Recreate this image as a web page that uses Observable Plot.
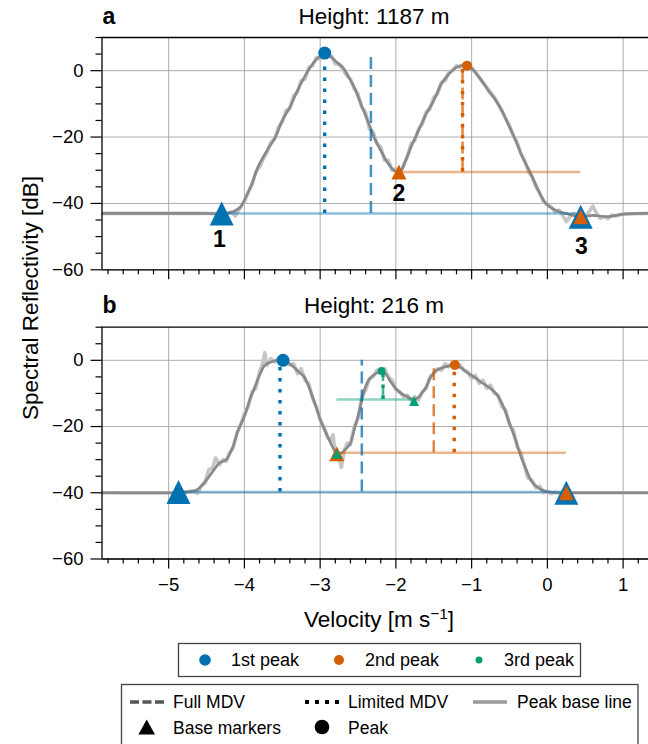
<!DOCTYPE html>
<html>
<head>
<meta charset="utf-8">
<script src="https://cdn.jsdelivr.net/npm/d3@7"></script>
<script src="https://cdn.jsdelivr.net/npm/@observablehq/plot@0.6"></script>
<style>
body { margin: 0; background: #fff; }
#fig { position: relative; width: 648px; height: 744px; overflow: hidden; background: #fff; }
#fig > div { position: absolute; left: 0; }
</style>
</head>
<body>
<div id="fig"><div id="pa" style="top:0px"></div><div id="pb" style="top:290px"></div></div>
<script>
const FONT = "'Liberation Sans', Arial, Helvetica, sans-serif";

// ---------- scales / ticks ----------
const xDomain = [-5.88, 1.335];
const yDomain = [-60, 10];
const xMajor = [-5, -4, -3, -2, -1, 0, 1];
const xMinor = [-5.8, -5.6, -5.4, -5.2, -4.8, -4.6, -4.4, -4.2, -3.8, -3.6, -3.4, -3.2,
  -2.8, -2.6, -2.4, -2.2, -1.8, -1.6, -1.4, -1.2, -0.8, -0.6, -0.4, -0.2, 0.2, 0.4, 0.6, 0.8, 1.2];
const yMajor = [-60, -40, -20, 0];
const yMinor = [-55, -50, -45, -35, -30, -25, -15, -10, -5, 5, 10];

const peakNames = ["1st peak", "2nd peak", "3rd peak"];
const peakColors = ["#0072B2", "#D55E00", "#009E73"];

// ---------- panel a (Height 1187 m) ----------
const smoothA = [[-5.88,-43],[-4.6,-43],[-4.3,-43],[-4.15,-42.5],[-4.05,-41],[-4.0,-39],[-3.9,-34],[-3.82,-29],
  [-3.7,-24],[-3.59,-20],[-3.5,-15],[-3.4,-11],[-3.3,-6],[-3.21,-2],[-3.1,2],[-3.02,4],[-2.93,5],[-2.85,4],
  [-2.78,2.5],[-2.7,1],[-2.62,-2],[-2.55,-5],[-2.48,-9],[-2.41,-13],[-2.34,-17],[-2.27,-21],[-2.2,-24],
  [-2.13,-27],[-2.05,-29.5],[-1.99,-30.5],[-1.93,-30],[-1.87,-27],[-1.8,-23],[-1.7,-18],[-1.6,-13],[-1.5,-9],
  [-1.4,-4],[-1.3,-1],[-1.2,1],[-1.1,1.7],[-1.05,1.5],[-0.97,0],[-0.87,-3],[-0.78,-6],[-0.68,-9],[-0.58,-13],
  [-0.5,-17],[-0.42,-21],[-0.33,-26],[-0.22,-31],[-0.12,-36],[-0.02,-40],[0.1,-42],[0.24,-43],[0.43,-44],
  [0.6,-43.6],[0.8,-44],[1.0,-43.2],[1.335,-43]];
const rawA = [[-5.88,-43],[-4.5,-43],[-4.25,-43.2],[-4.17,-42.6],[-4.12,-43.8],[-4.06,-41.5],[-4.0,-39.5],
  [-3.95,-36.5],[-3.9,-34.5],[-3.85,-30.5],[-3.8,-29],[-3.75,-26.5],[-3.7,-24.5],[-3.65,-21.5],[-3.6,-20.5],
  [-3.55,-17],[-3.5,-15.5],[-3.45,-12],[-3.4,-11.5],[-3.35,-7.5],[-3.3,-6.5],[-3.25,-3],[-3.2,-2.5],[-3.15,1],
  [-3.1,1.5],[-3.05,4],[-3.0,3.5],[-2.95,5.5],[-2.9,4.5],[-2.85,4.5],[-2.8,2],[-2.75,2],[-2.7,0.5],[-2.65,-1.5],
  [-2.6,-2.5],[-2.55,-5.5],[-2.5,-7],[-2.45,-11],[-2.4,-12.5],[-2.35,-17.5],[-2.3,-18.5],[-2.25,-22],[-2.2,-23],
  [-2.15,-27],[-2.1,-27],[-2.05,-30],[-2.0,-29.5],[-1.95,-31],[-1.9,-28.5],[-1.85,-26],[-1.8,-22],[-1.75,-21],
  [-1.7,-17.5],[-1.65,-16],[-1.6,-12.5],[-1.55,-11.5],[-1.5,-8],[-1.45,-7],[-1.4,-3.5],[-1.35,-3],[-1.3,-0.5],
  [-1.25,0],[-1.2,1.5],[-1.15,1],[-1.1,2],[-1.05,1.5],[-1.0,1],[-0.95,-0.5],[-0.9,-2],[-0.85,-3.5],[-0.8,-5],
  [-0.75,-6.5],[-0.7,-8],[-0.65,-10],[-0.6,-12],[-0.55,-14.5],[-0.5,-16.5],[-0.45,-19.5],[-0.4,-21.5],
  [-0.35,-25],[-0.3,-27],[-0.25,-30.5],[-0.2,-32],[-0.15,-35],[-0.1,-37],[-0.05,-39.5],[0.0,-40.5],[0.05,-41],
  [0.1,-42.5],[0.15,-42],[0.2,-43.5],[0.25,-45.5],[0.3,-44],[0.35,-43],[0.4,-44.5],[0.45,-43.5],[0.5,-44],
  [0.55,-42.5],[0.6,-40.8],[0.65,-43],[0.7,-44.5],[0.75,-44],[0.8,-44.6],[0.85,-43.5],[0.9,-43.8],[1.0,-43.2],[1.335,-43]];
const peakVelA = [-2.94, -1.06];
const peakDbA = [5.3, 1.5];
const fullMdvA = [-2.33, -1.12];
const limMdvA = [-2.94, -1.12];
const baseLVelA = [-4.3, -1.96];
const baseLDbA = [-43, -30.5];
const baseRVelA = [0.44, 0.44];
const baseRDbA = [-44, -44];
const baseLineDbA = [-43, -30.5];
const baseLabelsA = ["1", "2", "3"];
const labelVelA = [-4.33, -1.96, 0.45];
const labelDbA = [-50.8, -36.9, -52.9];

// ---------- panel b (Height 216 m) ----------
const smoothB = [[-5.88,-40],[-4.9,-40],[-4.75,-39.8],[-4.62,-39],[-4.55,-37.5],[-4.48,-35.5],[-4.4,-33],
  [-4.33,-31],[-4.24,-30],[-4.15,-26],[-4.08,-21],[-4.0,-17],[-3.93,-12],[-3.87,-8.5],[-3.8,-4.5],[-3.73,-1.5],
  [-3.65,-0.5],[-3.57,0],[-3.49,0],[-3.42,-0.8],[-3.35,-2],[-3.28,-3.5],[-3.21,-5],[-3.15,-8],[-3.1,-11],
  [-3.04,-15],[-2.98,-19],[-2.9,-23],[-2.84,-26],[-2.78,-28],[-2.72,-28],[-2.65,-26.5],[-2.6,-25],[-2.55,-21],
  [-2.5,-17],[-2.45,-12],[-2.41,-8.5],[-2.36,-6],[-2.3,-4.5],[-2.22,-3.5],[-2.17,-3.3],[-2.12,-4.5],[-2.07,-6.5],
  [-2.0,-8.5],[-1.93,-10],[-1.85,-11],[-1.78,-11.8],[-1.72,-11.5],[-1.66,-10],[-1.6,-8],[-1.55,-5.5],
  [-1.48,-3.3],[-1.4,-2.3],[-1.3,-1.7],[-1.22,-1.4],[-1.14,-2.3],[-1.06,-3.7],[-0.97,-5],[-0.87,-6.7],
  [-0.78,-8],[-0.68,-10],[-0.6,-13],[-0.5,-19],[-0.42,-24],[-0.35,-29],[-0.28,-33],[-0.21,-36.5],[-0.12,-38.5],
  [-0.03,-39.5],[0.1,-40],[0.25,-40],[1.335,-40]];
const rawB = [[-5.88,-40],[-4.9,-40],[-4.8,-39.8],[-4.7,-39.5],[-4.62,-40.2],[-4.57,-38],[-4.52,-37],
  [-4.47,-33],[-4.42,-32.5],[-4.38,-29.5],[-4.33,-31.5],[-4.28,-30],[-4.24,-30.5],[-4.2,-28],[-4.15,-26.5],
  [-4.1,-22],[-4.05,-19.5],[-4.0,-16],[-3.95,-14],[-3.9,-9.5],[-3.85,-8.5],[-3.8,-3.5],[-3.76,-1],[-3.73,2.3],
  [-3.7,-1.5],[-3.65,0.5],[-3.6,-0.5],[-3.55,0.5],[-3.5,-0.5],[-3.45,0],[-3.4,-1.5],[-3.35,-1],[-3.3,-4],
  [-3.25,-2.5],[-3.2,-6],[-3.15,-7],[-3.1,-11.5],[-3.05,-14],[-3.0,-18],[-2.95,-20],[-2.9,-23.5],[-2.86,-24],
  [-2.83,-22.5],[-2.8,-28],[-2.76,-29],[-2.72,-32.3],[-2.68,-27],[-2.64,-25],[-2.6,-25.5],[-2.55,-20],
  [-2.5,-17.5],[-2.45,-11],[-2.4,-9],[-2.35,-5.5],[-2.3,-5],[-2.25,-3],[-2.2,-3.5],[-2.15,-2.5],[-2.1,-5],
  [-2.05,-6],[-2.0,-9],[-1.95,-9.5],[-1.9,-11],[-1.85,-10.5],[-1.8,-12],[-1.75,-11],[-1.7,-12],[-1.65,-9.5],
  [-1.6,-8.5],[-1.55,-5],[-1.5,-4],[-1.45,-2.5],[-1.4,-3],[-1.35,-1],[-1.3,-2],[-1.25,-0.5],[-1.2,-1.5],
  [-1.15,-1.5],[-1.1,-3],[-1.05,-3.5],[-1.0,-5.5],[-0.95,-4.5],[-0.9,-7],[-0.85,-6],[-0.8,-8.5],[-0.75,-7.5],
  [-0.7,-10],[-0.65,-10.5],[-0.6,-14],[-0.55,-15],[-0.5,-19.5],[-0.45,-21],[-0.4,-26],[-0.35,-28],[-0.3,-32],
  [-0.26,-35.5],[-0.21,-36],[-0.15,-38.5],[-0.1,-38],[-0.05,-40],[0.0,-39.5],[0.05,-40.3],[0.1,-39.8],
  [0.2,-40.2],[0.3,-40],[1.335,-40]];
const peakVelB = [-3.49, -1.22, -2.19];
const peakDbB = [0, -1.4, -3.2];
const fullMdvB = [-2.45, -1.50, -2.17];
const limMdvB = [-3.53, -1.23, -2.17];
const baseLVelB = [-4.87, -2.78, -2.78];
const baseLDbB = [-39.8, -28.2, -28.2];
const baseRVelB = [0.25, 0.25, -1.76];
const baseRDbB = [-40, -40, -12.3];
const baseLineDbB = [-39.8, -27.9, -11.8];

// marker sizes per peak order
const triR = [12, 7.5, 5];
const dotR = [6.5, 5, 4];

const tri = {draw(ctx, size) { const r = Math.sqrt(size / Math.PI);
  ctx.moveTo(0, -r); ctx.lineTo(r, r); ctx.lineTo(-r, r); ctx.closePath(); }};
const fmt = d3.format("d");

function panel(p) {
  const X = d => d[0], Y = d => d[1];
  const marks = [
    Plot.gridX(xMajor, {stroke: "#999", strokeOpacity: 0.8, strokeWidth: 1}),
    Plot.gridY(yMajor, {stroke: "#999", strokeOpacity: 0.8, strokeWidth: 1}),
    Plot.line(p.raw, {x: X, y: Y, stroke: "#c6c6c6", strokeWidth: 3.6, clip: true}),
    Plot.line(p.smooth, {x: X, y: Y, stroke: "#8a8a8a", strokeWidth: 2.7, curve: "catmull-rom", clip: true})
  ];
  const n = p.peakVel.length;
  for (let i = 0; i < n; i++) {
    const c = peakColors[i];
    marks.push(Plot.ruleY([i], {y: () => p.baseLineDb[i], x1: () => p.baseLVel[i], x2: () => p.baseRVel[i],
      stroke: c, strokeOpacity: 0.45, strokeWidth: 2.5}));
  }
  for (let i = 0; i < n; i++) {
    const c = peakColors[i];
    marks.push(Plot.ruleX([i], {x: () => p.fullMdv[i], y1: () => p.baseLineDb[i], y2: () => p.peakDb[i],
      stroke: c, strokeOpacity: 0.75, strokeWidth: 2.5, strokeDasharray: "12,6"}));
    marks.push(Plot.ruleX([i], {x: () => p.limMdv[i], y1: () => p.baseLineDb[i], y2: () => p.peakDb[i],
      stroke: c, strokeWidth: 3.4, strokeDasharray: "3.5,7.5"}));
  }
  for (let i = 0; i < n; i++) {
    const c = peakColors[i];
    marks.push(Plot.dot([i], {x: () => p.baseLVel[i], y: () => p.baseLDb[i], r: triR[i], symbol: tri, fill: c}));
    marks.push(Plot.dot([i], {x: () => p.baseRVel[i], y: () => p.baseRDb[i], r: triR[i], symbol: tri, fill: c}));
  }
  for (let i = 0; i < n; i++) {
    marks.push(Plot.dot([i], {x: () => p.peakVel[i], y: () => p.peakDb[i], r: dotR[i], fill: peakColors[i]}));
  }
  if (p.labels) {
    marks.push(Plot.text(d3.range(p.labels.length), {x: i => p.labelVel[i], y: i => p.labelDb[i],
      text: i => p.labels[i], fontSize: 23, fontWeight: "bold", fill: "#000"}));
  }
  marks.push(
    Plot.axisY(yMajor, {tickSize: 11, tickPadding: 7.5, tickFormat: fmt, fontSize: 18.5, label: null, strokeWidth: 1.2, stroke: "#000"}),
    Plot.axisY(yMinor, {tickSize: 6, tickFormat: () => "", label: null, strokeWidth: 1.2, stroke: "#000"}),
    Plot.axisX(xMajor, {tickSize: 10, tickPadding: 8.5, tickFormat: p.showX ? fmt : () => "", fontSize: 18.5, label: null, strokeWidth: 1.2, stroke: "#000"}),
    Plot.axisX(xMinor, {tickSize: 5, tickFormat: () => "", label: null, strokeWidth: 1.2, stroke: "#000"}),
    Plot.ruleY([yDomain[0], yDomain[1]], {stroke: "#000", strokeWidth: 1.3}),
    Plot.ruleX([xDomain[0]], {stroke: "#000", strokeWidth: 1.3})
  );
  return Plot.plot({
    width: 648, height: p.height, marginLeft: 101.5, marginRight: 0,
    marginTop: p.marginTop, marginBottom: p.marginBottom,
    x: {domain: xDomain}, y: {domain: yDomain},
    style: {fontFamily: FONT, fontSize: "18.5px", color: "#000", background: "transparent", overflow: "visible"},
    marks
  });
}

document.getElementById("pa").append(panel({
  smooth: smoothA, raw: rawA, peakVel: peakVelA, peakDb: peakDbA, fullMdv: fullMdvA, limMdv: limMdvA,
  baseLVel: baseLVelA, baseLDb: baseLDbA, baseRVel: baseRVelA, baseRDb: baseRDbA, baseLineDb: baseLineDbA,
  labels: baseLabelsA, labelVel: labelVelA, labelDb: labelDbA,
  height: 285, marginTop: 37, marginBottom: 15.7, showX: false
}));
document.getElementById("pb").append(panel({
  smooth: smoothB, raw: rawB, peakVel: peakVelB, peakDb: peakDbB, fullMdv: fullMdvB, limMdv: limMdvB,
  baseLVel: baseLVelB, baseLDb: baseLDbB, baseRVel: baseRVelB, baseRDb: baseRDbB, baseLineDb: baseLineDbB,
  height: 310, marginTop: 36.7, marginBottom: 41.5, showX: true
}));

// ---------- titles, axis labels, legends ----------
const svg = d3.select("#fig").append("svg").attr("width", 648).attr("height", 744)
  .style("position", "absolute").style("left", 0).style("top", 0)
  .style("font-family", FONT).style("pointer-events", "none");
function txt(x, y, s, size, anchor = "start", weight = "normal") {
  return svg.append("text").attr("x", x).attr("y", y).attr("font-size", size)
    .attr("text-anchor", anchor).attr("font-weight", weight).attr("fill", "#000").text(s);
}
const panelTitles = ["Height: 1187 m", "Height: 216 m"];
const panelLetters = ["a", "b"];
txt(102.5, 24, panelLetters[0], 23, "start", "bold");
txt(374, 24, panelTitles[0], 22.5, "middle");
txt(102.5, 313, panelLetters[1], 23, "start", "bold");
txt(374, 313, panelTitles[1], 22.5, "middle");

svg.append("text").attr("transform", "translate(38,298) rotate(-90)").attr("text-anchor", "middle")
  .attr("font-size", 22.5).attr("fill", "#000").text("Spectral Reflectivity [dB]");

const xl = svg.append("text").attr("x", 379).attr("y", 627).attr("text-anchor", "middle").attr("font-size", 22.5).attr("fill", "#000");
xl.append("tspan").text("Velocity [m s");
xl.append("tspan").attr("dy", -8.5).attr("font-size", 15.5).text("−1");
xl.append("tspan").attr("dy", 8.5).attr("font-size", 22.5).text("]");

// legend 1: peak colours
svg.append("rect").attr("x", 178.5).attr("y", 643.5).attr("width", 402).attr("height", 33)
  .attr("fill", "#fff").attr("stroke", "#444").attr("stroke-width", 1.3);
const leg1Dot = [205, 339, 479], leg1Txt = [231, 365, 504], leg1R = [5.8, 5, 3.5];
peakNames.forEach((nm, i) => {
  svg.append("circle").attr("cx", leg1Dot[i]).attr("cy", 660).attr("r", leg1R[i]).attr("fill", peakColors[i]);
  txt(leg1Txt[i], 666, nm, 18);
});

// legend 2: line styles / markers
svg.append("rect").attr("x", 121.5).attr("y", 684.5).attr("width", 516.5).attr("height", 90)
  .attr("fill", "#fff").attr("stroke", "#444").attr("stroke-width", 1.3);
const styleNames = ["Full MDV", "Limited MDV", "Peak base line", "Base markers", "Peak"];
svg.append("line").attr("x1", 130).attr("x2", 164).attr("y1", 702).attr("y2", 702)
  .attr("stroke", "#555").attr("stroke-width", 3.5).attr("stroke-dasharray", "9,3.5");
txt(173, 708, styleNames[0], 17.5);
svg.append("line").attr("x1", 305).attr("x2", 339).attr("y1", 702).attr("y2", 702)
  .attr("stroke", "#000").attr("stroke-width", 4).attr("stroke-dasharray", "4,6");
txt(348, 708, styleNames[1], 17.5);
svg.append("line").attr("x1", 473).attr("x2", 507).attr("y1", 702).attr("y2", 702)
  .attr("stroke", "#999").attr("stroke-width", 3.5);
txt(517, 708, styleNames[2], 17.5);
svg.append("path").attr("d", "M146.7,719.5L155,734.5L138.4,734.5Z").attr("fill", "#000");
txt(173, 733.5, styleNames[3], 17.5);
svg.append("circle").attr("cx", 322).attr("cy", 727).attr("r", 7.3).attr("fill", "#000");
txt(348, 733.5, styleNames[4], 17.5);
</script>
</body>
</html>
